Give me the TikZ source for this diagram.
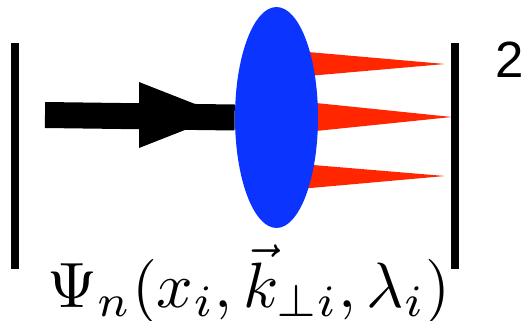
\documentclass[tikz,border=0pt]{standalone}
\usepackage{amsmath}
\usepackage{amssymb}
\usepackage{fontspec}
\newfontfamily\digitfont{Liberation Sans}
\usepackage{tikz}
\usetikzlibrary{shapes.geometric}
\definecolor{blobblue}{RGB}{12,52,255}
\definecolor{partonred}{RGB}{255,38,0}

\begin{document}
\begin{tikzpicture}[x=0.02cm, y=-0.02cm]

\useasboundingbox (0,0) rectangle (521,321);

% Partons (sota la taca)

\fill[partonred] (277,49.3) -- (445,64) -- (277,78.7) -- cycle;

\fill[partonred] (277,99) -- (452,117) -- (277,135) -- cycle;

\fill[partonred] (277,162) -- (445,176) -- (277,191) -- cycle;

% Taca

\node[
    ellipse,
    fill=blobblue,
    inner sep=0pt,
    minimum width=1.66cm,
    minimum height=4.42cm
] (blob) at (276.5,117.5) {};

% Hadró entrant

\coordinate (in) at (45,115);

\draw[line width=0.52cm] (in) -- (blob.west);

\fill (139,82) -- (223,115) -- (139,148) -- cycle;

% Barres del mòdul

\draw[line width=0.16cm] (15,43) -- (15,269);

\draw[line width=0.16cm] (455,43) -- (455,269);

% Textos

\node[anchor=base west, inner sep=0pt] (wf) at (47,307)
    {\resizebox{8.06cm}{!}{$\Psi_n(x_i,\vec{k}_{\perp i},\lambda_i)$}};

\node[anchor=base west, inner sep=0pt, font=\digitfont\fontsize{29}{30}\selectfont] (sq) at (495,77) {2};

\end{tikzpicture}
\end{document}
